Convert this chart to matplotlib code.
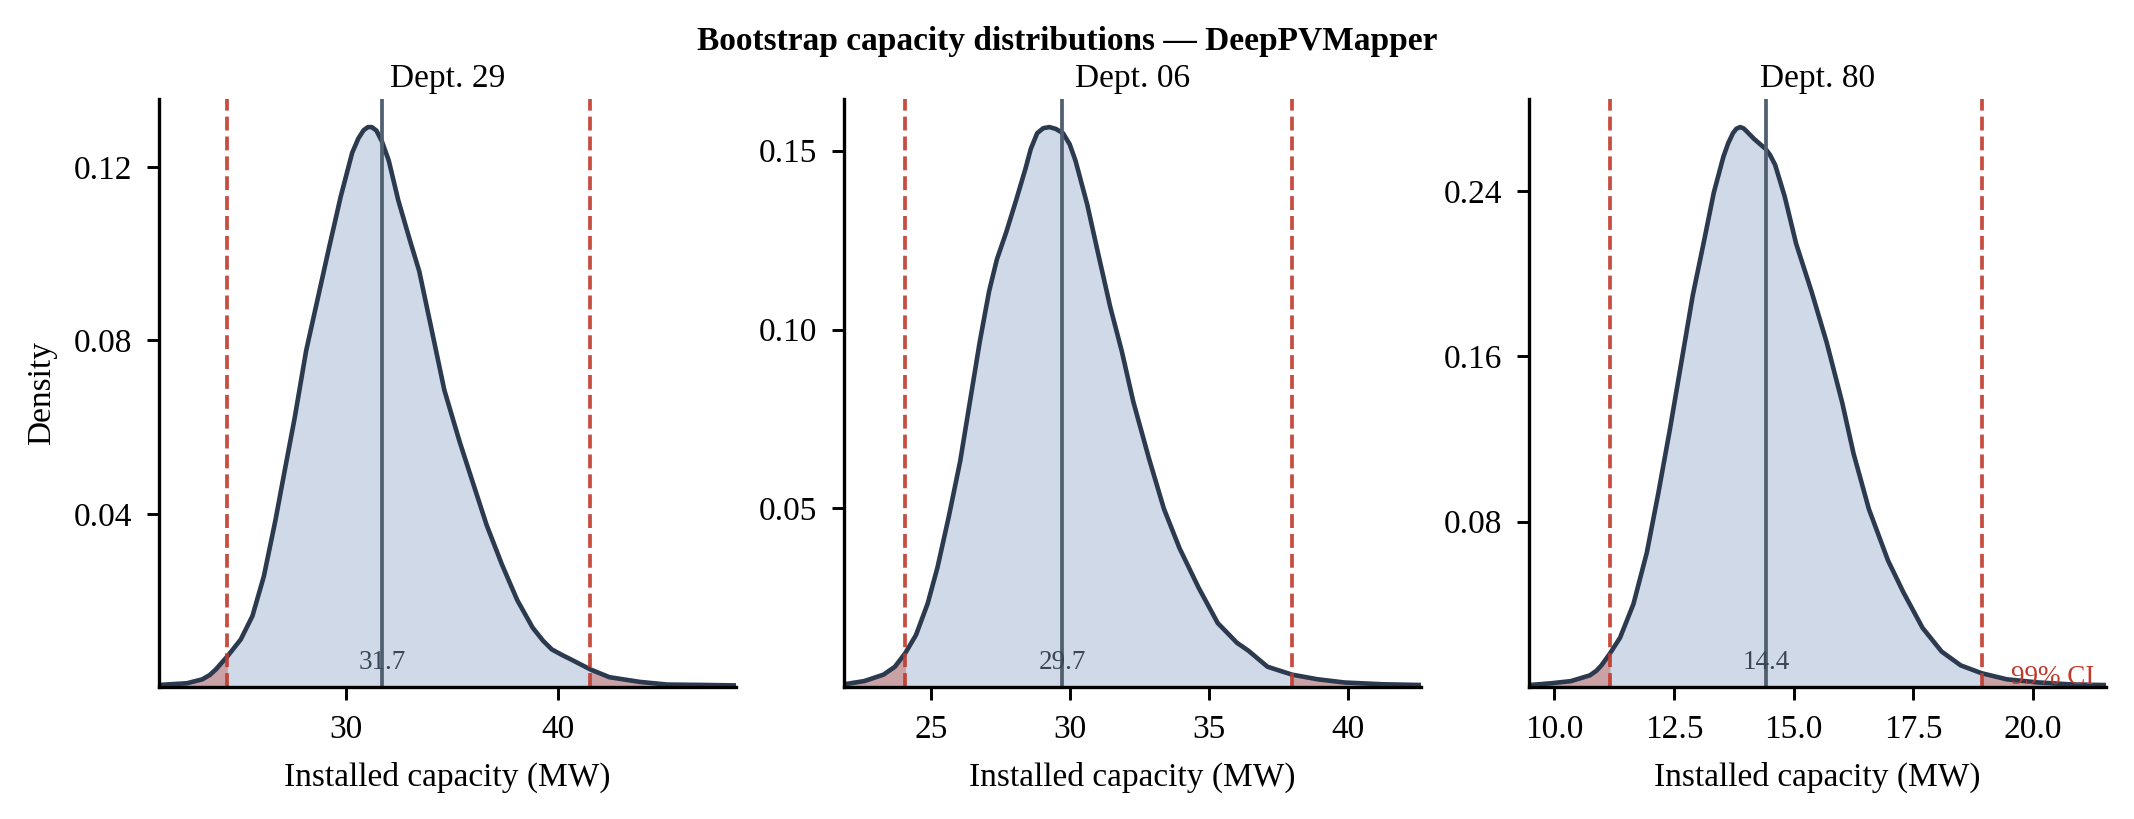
"""Bootstrap capacity distributions for three departments (DeepPVMapper)."""

import matplotlib

matplotlib.use("Agg")
import matplotlib.pyplot as plt
import numpy as np

plt.rcParams["font.family"] = ["Liberation Serif", "DejaVu Serif"]

DEPTS = ["Dept. 29", "Dept. 06", "Dept. 80"]

# KDE curves (capacity in MW, density)
CAP_29 = [21.21, 22.53, 23.25, 23.60, 23.89, 24.43, 25.06, 25.61, 26.15, 26.69,
          27.14, 27.60, 28.14, 28.68, 29.22, 29.77, 30.31, 30.60, 30.85, 31.05,
          31.23, 31.45, 31.70, 32.03, 32.48, 33.02, 33.47, 34.10, 34.65, 35.37,
          36.09, 36.64, 37.36, 38.08, 38.81, 39.30, 39.71, 40.20, 40.61, 41.52,
          42.42, 43.87, 45.14, 46.94, 48.39]
DENS_29 = [0.0005, 0.0009, 0.0018, 0.0028, 0.0041, 0.0071, 0.0110, 0.0164, 0.0256, 0.0384,
           0.0502, 0.0621, 0.0776, 0.0895, 0.1014, 0.1132, 0.1233, 0.1266, 0.1285, 0.1292,
           0.1292, 0.1284, 0.1260, 0.1215, 0.1123, 0.1032, 0.0959, 0.0813, 0.0685, 0.0566,
           0.0457, 0.0374, 0.0283, 0.0201, 0.0137, 0.0107, 0.0087, 0.0074, 0.0064, 0.0041,
           0.0023, 0.0012, 0.0006, 0.0005, 0.0004]

CAP_06 = [21.88, 22.61, 23.30, 23.71, 24.09, 24.47, 24.89, 25.24, 25.65, 26.06,
          26.41, 26.76, 27.10, 27.38, 27.72, 28.07, 28.41, 28.60, 28.83, 29.05,
          29.27, 29.50, 29.76, 30.00, 30.21, 30.63, 31.04, 31.46, 31.87, 32.29,
          32.84, 33.39, 33.95, 34.64, 35.33, 36.02, 36.43, 37.12, 38.00, 38.92,
          39.89, 41.27, 42.65]
DENS_06 = [0.0008, 0.0017, 0.0035, 0.0057, 0.0096, 0.0146, 0.0234, 0.0334, 0.0477, 0.0632,
           0.0798, 0.0964, 0.1107, 0.1196, 0.1273, 0.1361, 0.1450, 0.1505, 0.1549, 0.1563,
           0.1566, 0.1561, 0.1549, 0.1518, 0.1472, 0.1350, 0.1207, 0.1063, 0.0941, 0.0798,
           0.0643, 0.0499, 0.0389, 0.0278, 0.0179, 0.0124, 0.0102, 0.0057, 0.0035, 0.0022,
           0.0013, 0.0008, 0.0006]

CAP_80 = [9.47, 9.94, 10.34, 10.74, 10.88, 10.98, 11.16, 11.37, 11.65, 11.93,
          12.17, 12.41, 12.65, 12.89, 13.13, 13.33, 13.53, 13.63, 13.73, 13.80,
          13.88, 13.95, 14.01, 14.17, 14.41, 14.50, 14.61, 14.81, 15.05, 15.37,
          15.69, 16.01, 16.25, 16.57, 16.97, 17.29, 17.69, 18.09, 18.49, 18.93,
          19.45, 20.09, 20.81, 21.53]
DENS_80 = [0.0010, 0.0019, 0.0029, 0.0057, 0.0080, 0.0105, 0.0163, 0.0239, 0.0402, 0.0651,
           0.0938, 0.1244, 0.1569, 0.1895, 0.2163, 0.2392, 0.2565, 0.2630, 0.2679, 0.2700,
           0.2708, 0.2702, 0.2689, 0.2651, 0.2603, 0.2575, 0.2526, 0.2373, 0.2144, 0.1914,
           0.1665, 0.1378, 0.1129, 0.0861, 0.0612, 0.0459, 0.0287, 0.0172, 0.0105, 0.0067,
           0.0038, 0.0023, 0.0013, 0.0010]

MEDIANS = [31.72, 29.74, 14.42]
CI_LOW = [24.43, 24.09, 11.16]
CI_HIGH = [41.52, 38.00, 18.93]

X_TICKS = [[30, 40], [25, 30, 35, 40], [10.0, 12.5, 15.0, 17.5, 20.0]]
Y_TICKS = [[0.04, 0.08, 0.12], [0.05, 0.10, 0.15], [0.08, 0.16, 0.24]]

LINE = "#2b3a4e"
FILL = "#4a6fa5"
RED = "#c0392b"
MEDIAN_COLOR = "#4f5f70"

curves = [(CAP_29, DENS_29), (CAP_06, DENS_06), (CAP_80, DENS_80)]

fig, axes = plt.subplots(1, 3, figsize=(2134 / 300, 819 / 300), dpi=300)
fig.subplots_adjust(left=0.0745, right=0.987, top=0.879, bottom=0.161, wspace=0.187)

for i, ax in enumerate(axes):
    x = np.array(curves[i][0])
    y = np.array(curves[i][1])
    lo, hi, med = CI_LOW[i], CI_HIGH[i], MEDIANS[i]

    ax.fill_between(x, y, color=FILL, alpha=0.26, linewidth=0)
    ax.fill_between(x, y, where=x <= lo, color=RED, alpha=0.35, linewidth=0)
    ax.fill_between(x, y, where=x >= hi, color=RED, alpha=0.35, linewidth=0)
    ax.plot(x, y, color=LINE, linewidth=1.1, solid_joinstyle="round")

    ax.axvline(lo, color=RED, linestyle="--", linewidth=0.9, alpha=0.9)
    ax.axvline(hi, color=RED, linestyle="--", linewidth=0.9, alpha=0.9)
    ax.axvline(med, color=MEDIAN_COLOR, linewidth=0.9)
    ax.text(med, 0.02, f"{med:.1f}", transform=ax.get_xaxis_transform(),
            ha="center", va="bottom", fontsize=6.5, color="#3a4656")

    ax.set_xlim(x.min(), x.max())
    ax.set_ylim(0, y.max() * 1.05)
    ax.set_xticks(X_TICKS[i])
    ax.set_yticks(Y_TICKS[i])
    if i == 2:
        ax.set_xticklabels([f"{t:.1f}" for t in X_TICKS[i]])
    ax.set_yticklabels([f"{t:.2f}" for t in Y_TICKS[i]])
    ax.tick_params(labelsize=8, width=0.7, length=3)
    for side in ("top", "right"):
        ax.spines[side].set_visible(False)
    for side in ("left", "bottom"):
        ax.spines[side].set_linewidth(0.8)

    ax.set_title(DEPTS[i], fontsize=8, pad=3)
    ax.set_xlabel("Installed capacity (MW)", fontsize=8)

axes[0].set_ylabel("Density", fontsize=8)
axes[2].text(0.98, 0.005, "99% CI", transform=axes[2].transAxes,
             ha="right", va="baseline", fontsize=6.5, color=RED)

fig.suptitle("Bootstrap capacity distributions \u2014 DeepPVMapper",
             fontsize=8, fontweight="bold", y=0.968)

fig.savefig("out.png", dpi=300)
